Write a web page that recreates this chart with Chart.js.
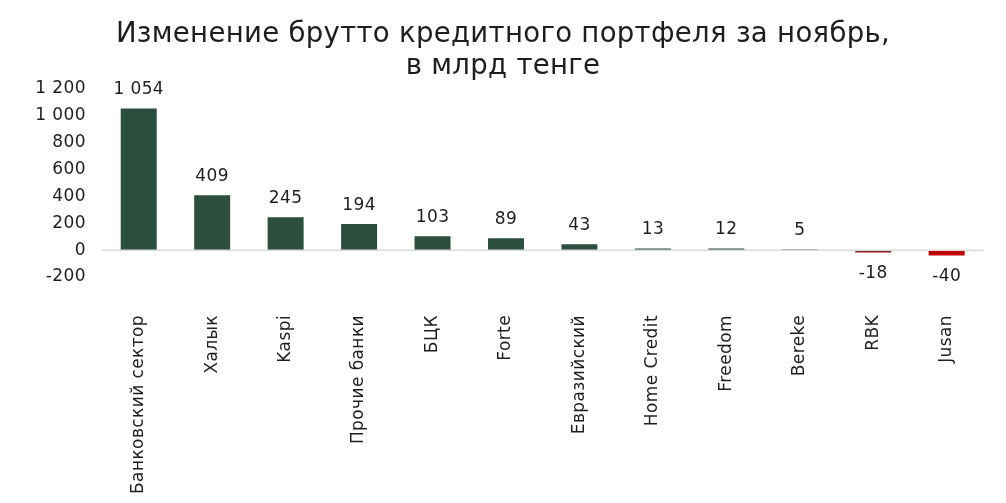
<!DOCTYPE html>
<html>
<head>
<meta charset="utf-8">
<script src="https://cdn.jsdelivr.net/npm/chart.js@4"></script>
<style>
html,body{margin:0;padding:0;background:#fff;}
#wrap{width:1006px;height:503px;}
</style>
</head>
<body>
<div id="wrap"><canvas id="c" width="1006" height="503"></canvas></div>
<script>
const categories = ["Банковский сектор","Халык","Kaspi","Прочие банки","БЦК","Forte","Евразийский","Home Credit","Freedom","Bereke","RBK","Jusan"];
const values = [1054,409,245,194,103,89,43,13,12,5,-18,-40];
const barColors = ["#2B4F3C","#2B4F3C","#2B4F3C","#2B4F3C","#2B4F3C","#2B4F3C","#2B4F3C","#2B4F3C","#2B4F3C","#2B4F3C","#8A1C1C","#C00000"];
const yTicks = [-200,0,200,400,600,800,1000,1200];
const titleLines = ["Изменение брутто кредитного портфеля за ноябрь,","в млрд тенге"];

const FONT = "'DejaVu Sans', sans-serif";
const TEXT = '#1e1e1e';
const fmt = v => {
  const s = Math.abs(v).toString().replace(/\B(?=(\d{3})+(?!\d))/g, " ");
  return (v < 0 ? "-" : "") + s;
};

const spacingPlugin = {
  id: 'spacing',
  beforeDraw(chart) { chart.ctx.letterSpacing = '0.4px'; },
  afterDraw(chart) { chart.ctx.letterSpacing = '0px'; }
};

const titlePlugin = {
  id: 'titleDraw',
  afterDraw(chart) {
    const ctx = chart.ctx;
    ctx.save();
    ctx.letterSpacing = '0.3px';
    ctx.fillStyle = TEXT;
    ctx.textAlign = 'center';
    ctx.textBaseline = 'middle';
    ctx.font = "26px " + FONT;
    const w = ctx.measureText(titleLines[0]).width;
    const size = 26 * 775 / w;
    ctx.font = size.toFixed(2) + "px " + FONT;
    ctx.fillText(titleLines[0], 503, 35);
    ctx.fillText(titleLines[1], 503, 67);
    ctx.restore();
  }
};

const zeroLinePlugin = {
  id: 'zeroLine',
  afterDatasetsDraw(chart) {
    const ctx = chart.ctx;
    const a = chart.chartArea;
    const y0 = chart.scales.y.getPixelForValue(0);
    ctx.save();
    ctx.strokeStyle = '#D9D9D9';
    ctx.lineWidth = 1.5;
    ctx.beginPath();
    ctx.moveTo(a.left, y0);
    ctx.lineTo(a.right, y0);
    ctx.stroke();
    ctx.restore();
  }
};

const labelPlugin = {
  id: 'valLabels',
  afterDatasetsDraw(chart) {
    const ctx = chart.ctx;
    const meta = chart.getDatasetMeta(0);
    const y = chart.scales.y;
    ctx.save();
    ctx.fillStyle = TEXT;
    ctx.font = "17px " + FONT;
    ctx.textAlign = 'center';
    ctx.textBaseline = 'middle';
    meta.data.forEach((bar, i) => {
      const v = values[i];
      const py = y.getPixelForValue(v);
      const ty = v >= 0 ? py - 19 : py + 21;
      ctx.fillText(fmt(v), bar.x, ty);
    });
    ctx.restore();
  }
};

new Chart(document.getElementById('c'), {
  type: 'bar',
  data: {
    labels: categories,
    datasets: [{
      data: values,
      backgroundColor: barColors,
      barPercentage: 0.49,
      categoryPercentage: 1.0
    }]
  },
  options: {
    responsive: false,
    animation: false,
    layout: { padding: { top: 89, left: 0, right: 22, bottom: 0 } },
    plugins: { legend: { display: false }, title: { display: false }, tooltip: { enabled: false } },
    scales: {
      x: {
        grid: { display: false, drawTicks: false },
        border: { display: false },
        ticks: {
          color: TEXT,
          font: { family: FONT, size: 17 },
          minRotation: 90, maxRotation: 90,
          padding: 38,
          autoSkip: false
        },
        afterFit(s) { s.height = 503 - 277; }
      },
      y: {
        min: -200, max: 1200,
        afterBuildTicks(s) { s.ticks = yTicks.map(v => ({ value: v })); },
        grid: { display: false, drawTicks: false },
        border: { display: false },
        ticks: {
          color: TEXT,
          font: { family: FONT, size: 17 },
          padding: 16,
          callback: v => fmt(v)
        },
        afterFit(s) { s.width = 102; }
      }
    }
  },
  plugins: [spacingPlugin, titlePlugin, zeroLinePlugin, labelPlugin]
});
</script>
</body>
</html>
